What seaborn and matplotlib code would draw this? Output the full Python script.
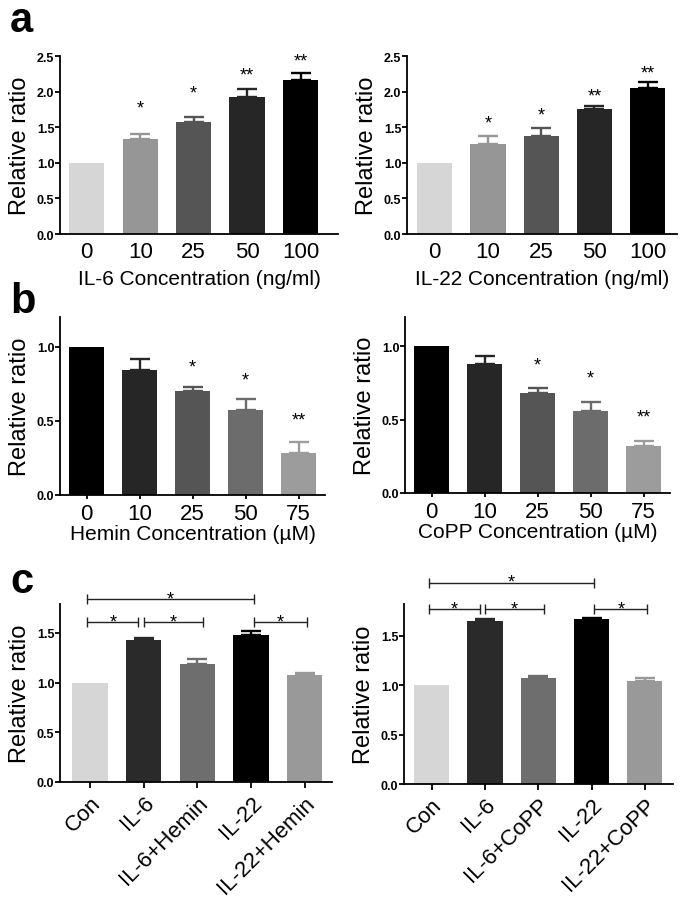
import matplotlib
matplotlib.use("Agg")
import matplotlib.pyplot as plt
import seaborn as sns
import numpy as np
import pandas as pd

sns.set_style("ticks")
plt.rcParams['font.family'] = ['Liberation Sans', 'DejaVu Sans']
plt.rcParams['text.color'] = 'black'
plt.rcParams['axes.labelcolor'] = 'black'
plt.rcParams['xtick.color'] = 'black'
plt.rcParams['ytick.color'] = 'black'

# ---------------- data ----------------
conc_il = ["0", "10", "25", "50", "100"]
conc_hc = ["0", "10", "25", "50", "75"]

il6_vals = [1.00, 1.34, 1.57, 1.92, 2.16]
il6_err = [0.00, 0.06, 0.08, 0.11, 0.10]
il6_stars = ["", "*", "*", "**", "**"]
il6_star_y = [0, 1.85, 2.06, 2.31, 2.51]

il22_vals = [1.00, 1.26, 1.37, 1.75, 2.05]
il22_err = [0.00, 0.12, 0.12, 0.05, 0.08]
il22_stars = ["", "*", "*", "**", "**"]
il22_star_y = [0, 1.64, 1.76, 2.02, 2.35]

hemin_vals = [1.00, 0.84, 0.70, 0.57, 0.28]
hemin_err = [0.00, 0.08, 0.03, 0.08, 0.075]
hemin_stars = ["", "", "*", "*", "**"]
hemin_star_y = [0, 0, 0.906, 0.816, 0.546]

copp_vals = [1.00, 0.88, 0.68, 0.56, 0.32]
copp_err = [0.00, 0.055, 0.035, 0.06, 0.035]
copp_stars = ["", "", "*", "*", "**"]
copp_star_y = [0, 0, 0.91, 0.825, 0.56]

c_hemin_cats = ["Con", "IL-6", "IL-6+Hemin", "IL-22", "IL-22+Hemin"]
c_hemin_vals = [1.00, 1.433, 1.19, 1.483, 1.074]
c_hemin_err = [0.00, 0.013, 0.05, 0.034, 0.02]

c_copp_cats = ["Con", "IL-6", "IL-6+CoPP", "IL-22", "IL-22+CoPP"]
c_copp_vals = [1.00, 1.648, 1.073, 1.665, 1.039]
c_copp_err = [0.00, 0.024, 0.024, 0.013, 0.034]

# brackets: (x_start, x_end, y)
c_hemin_brackets = [(-0.05, 3.05, 1.84), (-0.05, 0.90, 1.604), (1.0, 2.1, 1.604), (3.05, 4.05, 1.604)]
c_copp_brackets = [(-0.05, 3.05, 2.035), (-0.05, 0.90, 1.766), (1.0, 2.1, 1.766), (3.05, 4.05, 1.766)]

# ---------------- styles ----------------
inc_colors = ["#d6d6d6", "#969696", "#555555", "#262626", "#000000"]
dec_colors = ["#000000", "#262626", "#555555", "#6c6c6c", "#9c9c9c"]
c_colors = ["#d6d6d6", "#2a2a2a", "#6e6e6e", "#000000", "#999999"]

W, H = 685, 904
fig = plt.figure(figsize=(W / 100, H / 100), dpi=100)


def axes_px(x0, x1, y0, y1):
    return fig.add_axes([x0 / W, 1 - y1 / H, (x1 - x0) / W, (y1 - y0) / H])


def bar_panel(ax, cats, vals, errs, colors, ylim, yticks, xlim, xlabel=None,
              stars=None, star_y=None, xticks_len=0, rotate=False,
              xpad=3, xlabelpad=4):
    df = pd.DataFrame({"cat": cats, "val": vals})
    sns.barplot(data=df, x="cat", y="val", hue="cat", order=cats, hue_order=cats,
                palette=colors, legend=False, width=0.66, ax=ax,
                edgecolor="none", linewidth=0)
    for i, (v, e, c) in enumerate(zip(vals, errs, colors)):
        if e > 0:
            ax.errorbar(i, v, yerr=[[0], [e]], fmt="none", ecolor=c,
                        elinewidth=1.7, capsize=7.5, capthick=1.7, zorder=3)
    if stars is not None:
        for i, (s, sy) in enumerate(zip(stars, star_y)):
            if s:
                ax.annotate(s, (i, sy), xytext=(0, -7.5), textcoords="offset points",
                            ha="center", va="baseline", fontsize=13, color="black",
                            annotation_clip=False)
    ax.set_ylim(*ylim)
    ax.set_xlim(*xlim)
    ax.set_yticks(yticks)
    ax.set_yticklabels([f"{t:.1f}" for t in yticks], fontsize=9, fontweight="bold")
    ax.set_ylabel("Relative ratio", fontsize=17, labelpad=4)
    for sp in ["top", "right"]:
        ax.spines[sp].set_visible(False)
    for sp in ["left", "bottom"]:
        ax.spines[sp].set_linewidth(1.3)
        ax.spines[sp].set_color("black")
    ax.tick_params(axis="y", length=3.5, width=1.3, pad=0.5)
    ax.tick_params(axis="x", length=xticks_len, width=1.3, pad=xpad, labelsize=16)
    if rotate:
        for lab in ax.get_xticklabels():
            lab.set_rotation(45)
            lab.set_ha("right")
            lab.set_va("top")
            lab.set_rotation_mode("anchor")
    if xlabel:
        ax.set_xlabel(xlabel, fontsize=15, labelpad=xlabelpad)
    else:
        ax.set_xlabel("")


def brackets(ax, br):
    for x1, x2, y in br:
        ax.plot([x1, x2], [y, y], color="#222222", lw=1.0, marker="|",
                markersize=7, mew=1.0, clip_on=False)
        ax.annotate("*", ((x1 + x2) / 2, y), xytext=(0, -3), textcoords="offset points",
                    ha="center", va="baseline", fontsize=13, color="black",
                    annotation_clip=False)


ax1 = axes_px(60, 338, 57, 235)
bar_panel(ax1, conc_il, il6_vals, il6_err, inc_colors, (0, 2.5),
          [0, 0.5, 1.0, 1.5, 2.0, 2.5], (-0.5, 4.7),
          xlabel="IL-6 Concentration (ng/ml)", stars=il6_stars, star_y=il6_star_y,
          xpad=5, xlabelpad=5)

ax2 = axes_px(407, 677, 57, 235)
bar_panel(ax2, conc_il, il22_vals, il22_err, inc_colors, (0, 2.5),
          [0, 0.5, 1.0, 1.5, 2.0, 2.5], (-0.52, 4.55),
          xlabel="IL-22 Concentration (ng/ml)", stars=il22_stars, star_y=il22_star_y,
          xpad=5, xlabelpad=5)

ax3 = axes_px(60, 325, 318, 496)
bar_panel(ax3, conc_hc, hemin_vals, hemin_err, dec_colors, (0, 1.2),
          [0, 0.5, 1.0], (-0.5, 4.5),
          xlabel="Hemin Concentration (\u00b5M)", stars=hemin_stars, star_y=hemin_star_y,
          xticks_len=3, xlabelpad=0)

ax4 = axes_px(405, 670, 318, 494)
bar_panel(ax4, conc_hc, copp_vals, copp_err, dec_colors, (0, 1.2),
          [0, 0.5, 1.0], (-0.5, 4.5),
          xlabel="CoPP Concentration (\u00b5M)", stars=copp_stars, star_y=copp_star_y,
          xticks_len=3, xlabelpad=0)

ax5 = axes_px(60, 332, 605, 783)
bar_panel(ax5, c_hemin_cats, c_hemin_vals, c_hemin_err, c_colors, (0, 1.79),
          [0, 0.5, 1.0, 1.5], (-0.56, 4.51), xticks_len=4, rotate=True)
brackets(ax5, c_hemin_brackets)

ax6 = axes_px(404, 673, 605, 785)
bar_panel(ax6, c_copp_cats, c_copp_vals, c_copp_err, c_colors, (0, 1.82),
          [0, 0.5, 1.0, 1.5], (-0.52, 4.53), xticks_len=4, rotate=True)
brackets(ax6, c_copp_brackets)

for letter, y in [("a", 32), ("b", 313), ("c", 593)]:
    fig.text(10 / W, 1 - y / H, letter, fontsize=30, fontweight="bold",
             ha="left", va="baseline")

fig.savefig("out.png", dpi=100)
